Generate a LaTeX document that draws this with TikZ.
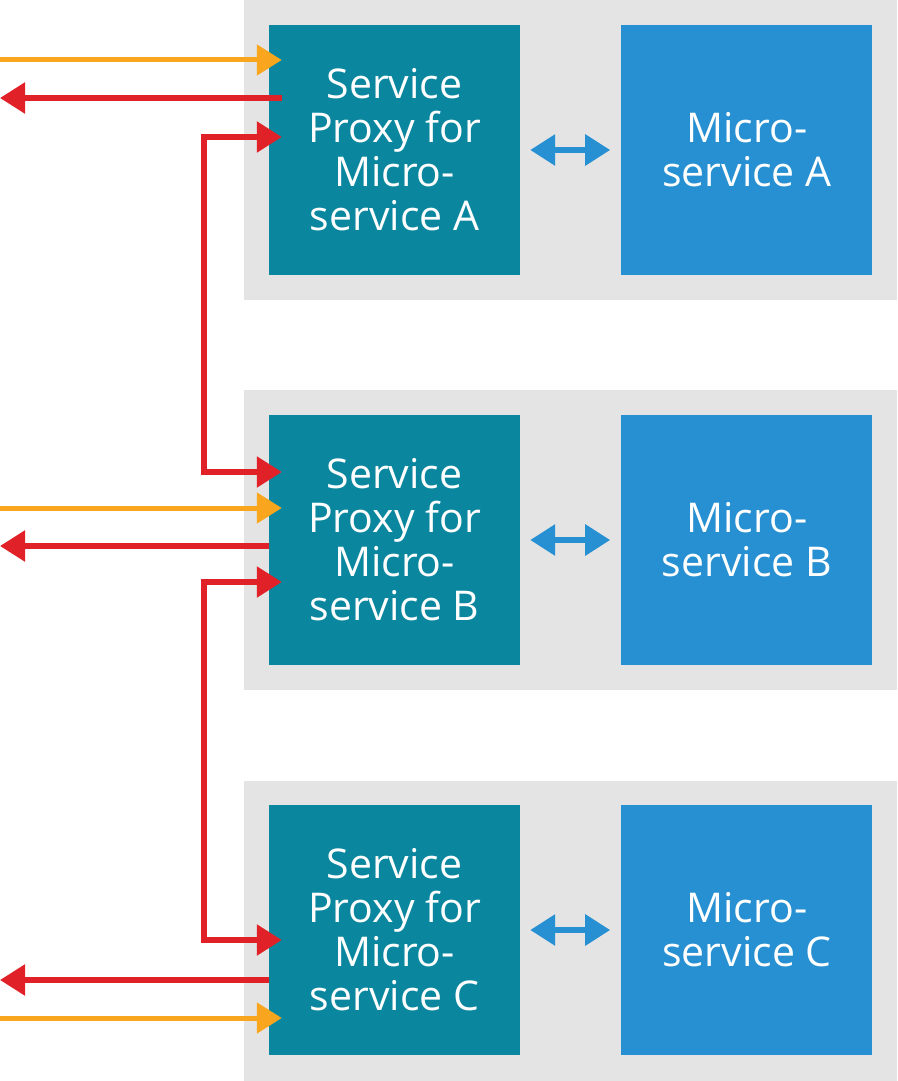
\documentclass[tikz,border=0pt]{standalone}
\usepackage{fontspec}
\setmainfont{Open Sans}
\usepackage{tikz}
\usetikzlibrary{arrows.meta, positioning}
\definecolor{panelgray}{HTML}{E4E4E4}
\definecolor{proxyteal}{HTML}{0A879E}
\definecolor{microblue}{HTML}{2790D2}
\definecolor{callred}{HTML}{E02127}
\definecolor{reqorange}{HTML}{F9A61E}
\tikzstyle{panel} = [rectangle, fill=panelgray, minimum width=653pt, minimum height=300pt, inner sep=0pt]
\tikzstyle{proxy} = [rectangle, fill=proxyteal, minimum width=251pt, minimum height=250pt, inner sep=0pt, text=white, align=center, font=\fontsize{41}{44}\selectfont]
\tikzstyle{micro} = [proxy, fill=microblue]
\tikzstyle{request} = [line width=5pt, reqorange, -{Triangle[length=25pt,width=30pt]}]
\tikzstyle{reply} = [line width=5.5pt, callred, -{Triangle[length=25pt,width=30pt]}]
\tikzstyle{hop} = [line width=5.5pt, callred, {Triangle[length=25pt,width=30pt]}-{Triangle[length=25pt,width=30pt]}]
\tikzstyle{local} = [line width=6pt, microblue, {Triangle[length=25pt,width=30pt]}-{Triangle[length=25pt,width=30pt]}]

\begin{document}
\begin{tikzpicture}[x=1pt, y=-1pt, node distance=90pt]
    \useasboundingbox (0,0) rectangle (897,1081);
    \coordinate (edge) at (0,0);
    \coordinate (railx) at (204,0);
    % gray panels
    \node (panelA) [panel] at (570.5,150) {};
    \node (panelB) [panel, below = of panelA] {};
    \node (panelC) [panel, below = of panelB] {};
    % proxies and services
    \node (proxyA) [proxy] at (394.5,150) {Service\\Proxy for\\Micro-\\service A};
    \node (proxyB) [proxy] at (394.5,540) {Service\\Proxy for\\Micro-\\service B};
    \node (proxyC) [proxy] at (394.5,930) {Service\\Proxy for\\Micro-\\service C};
    \node (microA) [micro, right = 101pt of proxyA] {Micro-\\service A};
    \node (microB) [micro, right = 101pt of proxyB] {Micro-\\service B};
    \node (microC) [micro, right = 101pt of proxyC] {Micro-\\service C};
    \draw [local] ([xshift=10pt]proxyA.east) -- ([xshift=-11pt]microA.west);
    \draw [local] ([xshift=10pt]proxyB.east) -- ([xshift=-11pt]microB.west);
    \draw [local] ([xshift=10pt]proxyC.east) -- ([xshift=-11pt]microC.west);
    % entry points
    \coordinate (inA) at ([yshift=90pt]proxyA.west);
    \coordinate (outA) at ([yshift=52pt]proxyA.west);
    \coordinate (hopA) at ([yshift=13pt]proxyA.west);
    \coordinate (hopB) at ([yshift=68pt]proxyB.west);
    \coordinate (inB) at ([yshift=32pt]proxyB.west);
    \coordinate (outB) at ([yshift=-6pt]proxyB.west);
    \coordinate (nextB) at ([yshift=-42pt]proxyB.west);
    \coordinate (hopC) at ([yshift=-10pt]proxyC.west);
    \coordinate (outC) at ([yshift=-50pt]proxyC.west);
    \coordinate (inC) at ([yshift=-88pt]proxyC.west);
    % requests and replies
    \draw [request] (inA -| edge) -- ([xshift=13pt]inA);
    \draw [reply] ([xshift=13pt]outA) -- (outA -| edge);
    \draw [request] (inB -| edge) -- ([xshift=13pt]inB);
    \draw [reply] (outB) -- (outB -| edge);
    \draw [reply] (outC) -- (outC -| edge);
    \draw [request] (inC -| edge) -- ([xshift=13pt]inC);
    % proxy to proxy
    \draw [hop] ([xshift=13pt]hopA) -- (hopA -| railx) -- (hopB -| railx) -- ([xshift=13pt]hopB);
    \draw [hop] ([xshift=13pt]nextB) -- (nextB -| railx) -- (hopC -| railx) -- ([xshift=13pt]hopC);
\end{tikzpicture}
\end{document}
